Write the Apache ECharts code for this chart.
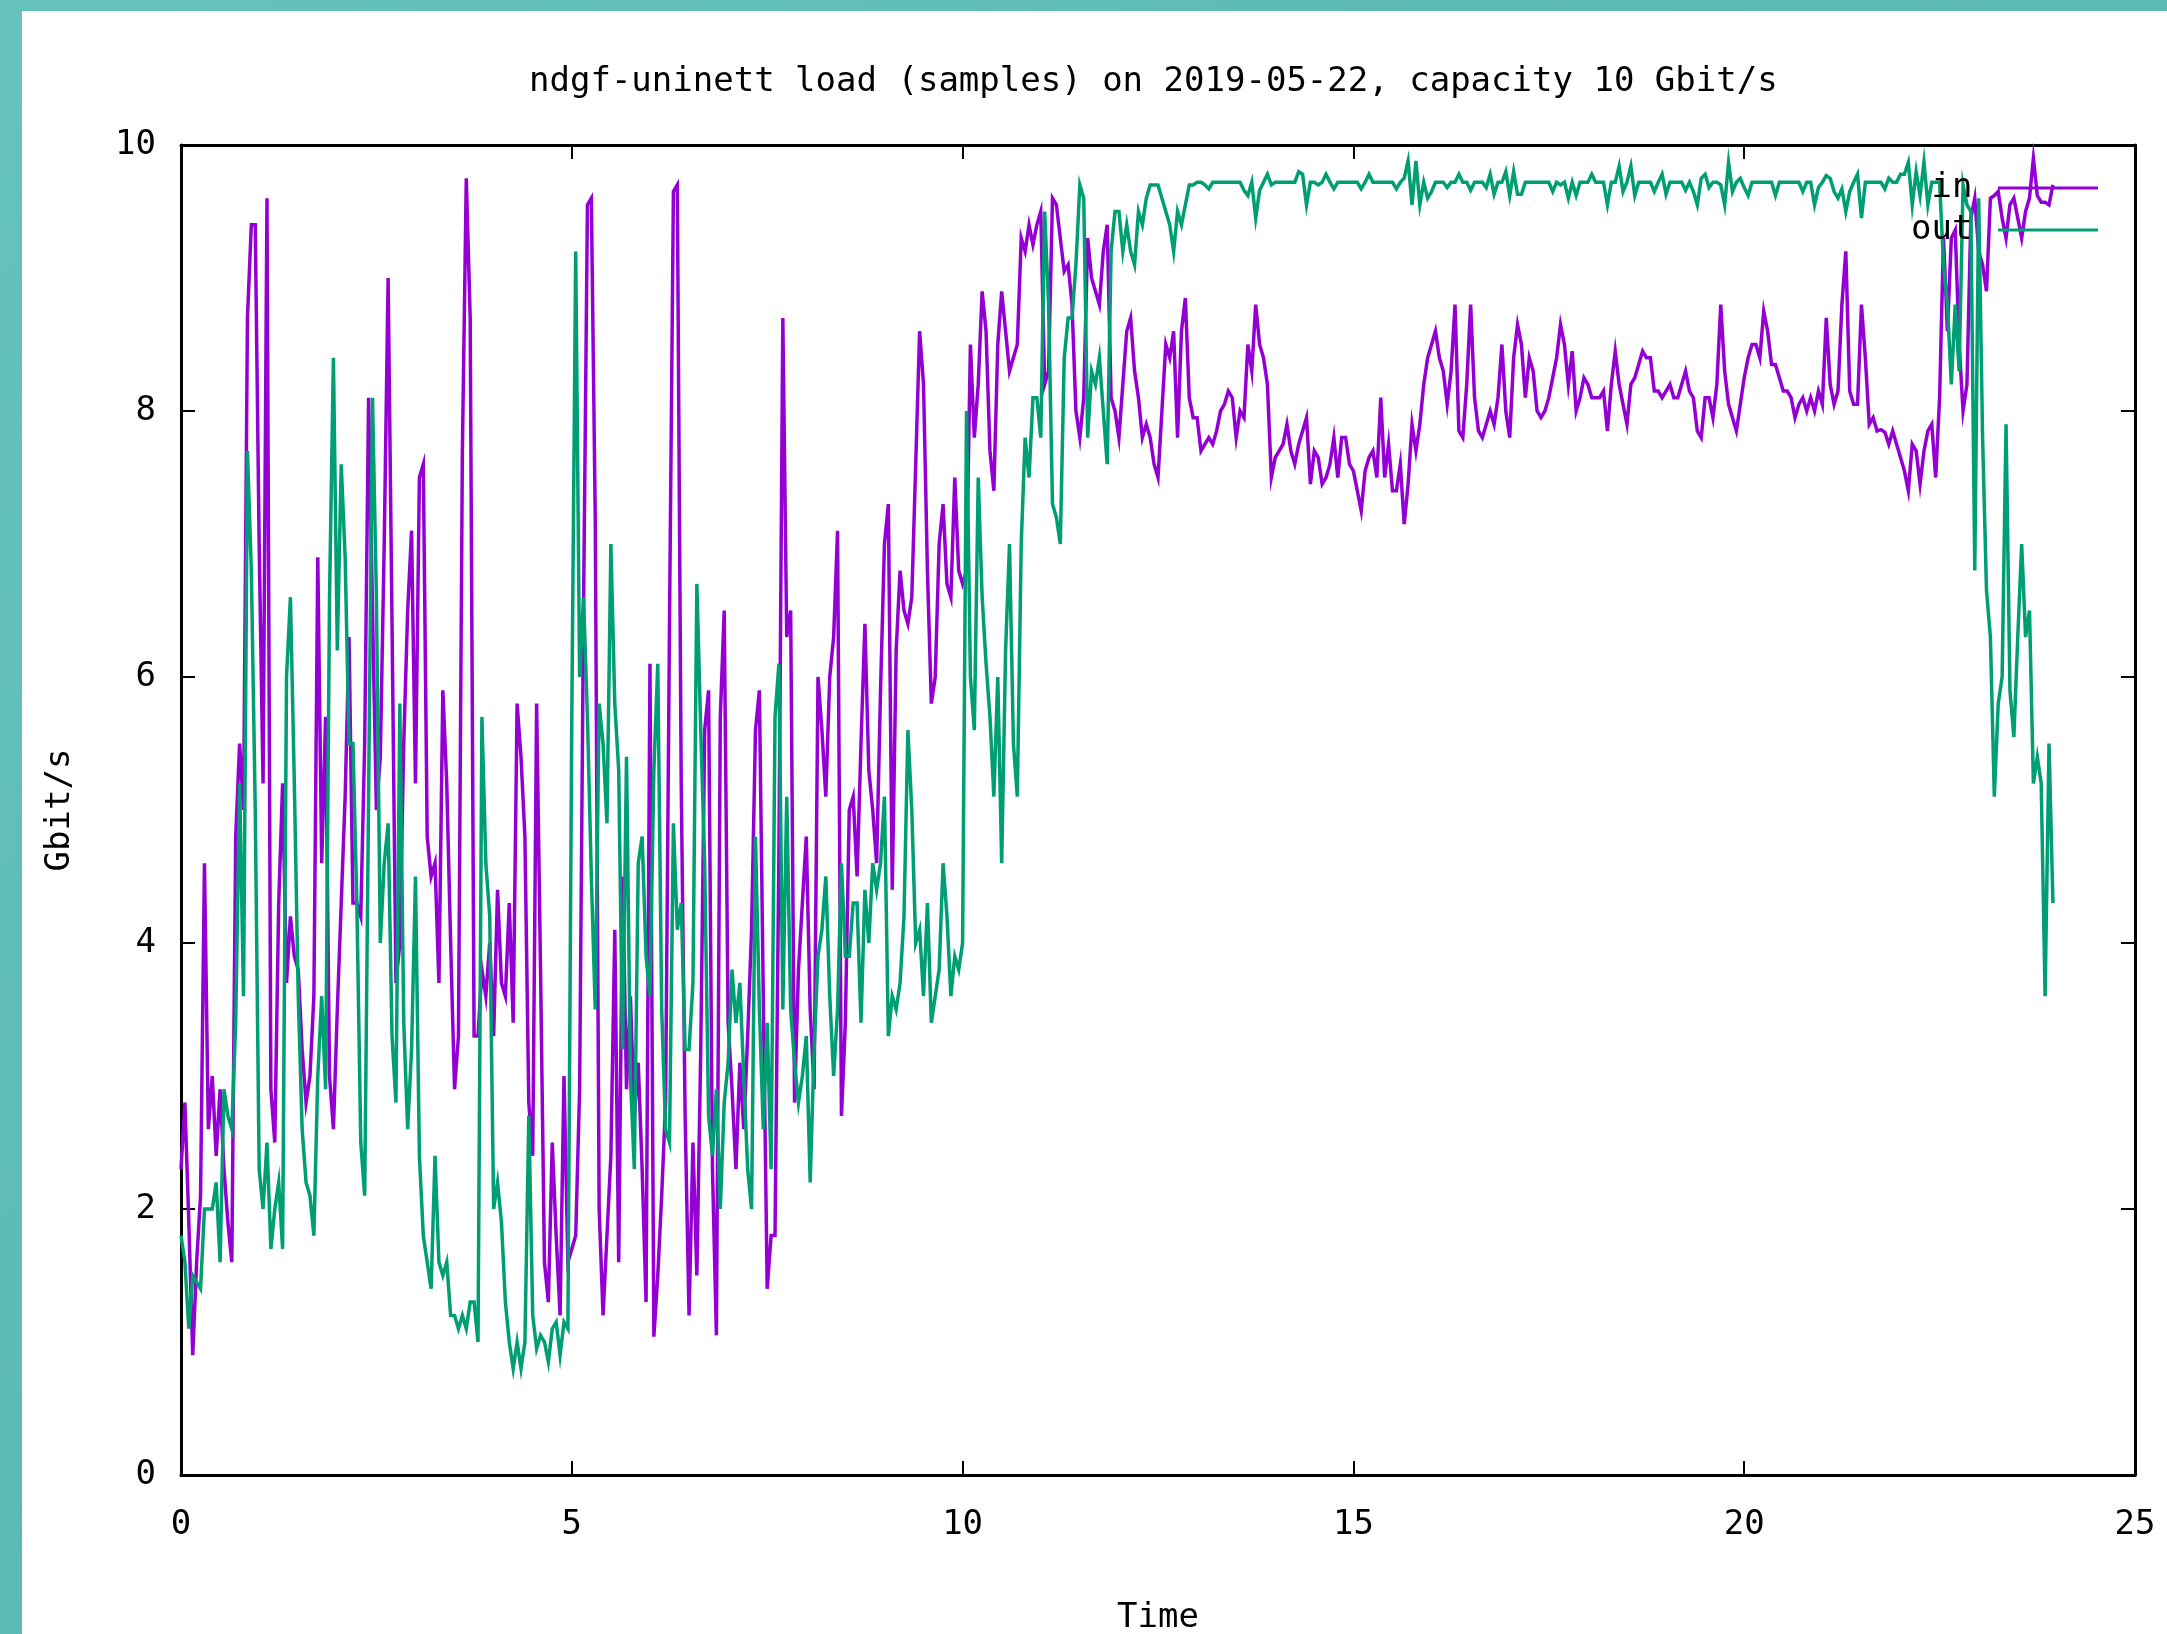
<!DOCTYPE html>
<html>
<head>
<meta charset="utf-8">
<title>ndgf-uninett load</title>
<script src="https://cdn.jsdelivr.net/npm/echarts@6/dist/echarts.min.js"></script>
<style>
  html, body { margin: 0; padding: 0; width: 2167px; height: 1634px; overflow: hidden;
    background: linear-gradient(135deg, #67c2bd 0%, #5db9b4 45%, #65c0bb 100%); }
  #panel { position: absolute; left: 22px; top: 11px; right: 0; bottom: 0; background: #fff; }
  #chart { position: absolute; left: 0; top: 0; width: 2167px; height: 1634px; }
</style>
</head>
<body>
<div id="panel"></div>
<div id="chart"></div>
<script>
// one sample every 0.05 h (3 min), starting at 0
const STEP_H = 0.05;

const xTicks = [0, 5, 10, 15, 20, 25];
const yTicks = [0, 2, 4, 6, 8, 10];

// "in" load, Gbit/s
const inGbit = [
  // 0.00 - 4.20
  2.3, 2.8, 1.9, 0.9, 1.6, 2.1, 4.6, 2.6, 3.0, 2.4,
  2.9, 2.3, 1.9, 1.6, 4.8, 5.5, 5.0, 8.7, 9.4, 9.4,
  7.0, 5.2, 9.6, 2.9, 2.5, 4.3, 5.2, 3.7, 4.2, 3.9,
  3.8, 3.2, 2.8, 3.0, 3.6, 6.9, 4.6, 5.7, 3.0, 2.6,
  3.5, 4.3, 5.1, 6.3, 4.3, 4.3, 4.2, 5.5, 8.1, 6.5,
  5.0, 5.4, 7.0, 9.0, 6.4, 3.7, 4.0, 5.5, 6.5, 7.1,
  5.2, 7.5, 7.6, 4.8, 4.5, 4.6, 3.7, 5.9, 5.2, 4.0,
  2.9, 3.3, 7.7, 9.75, 8.7, 3.3, 3.3, 3.8, 3.6, 4.0,
  3.3, 4.4, 3.7, 3.6, 4.3,
  // 4.25 - 8.35
  3.4, 5.8, 5.4, 4.8, 2.8, 2.4, 5.8, 3.8, 1.6, 1.3,
  2.5, 1.8, 1.2, 3.0, 1.6, 1.7, 1.8, 2.9, 6.5, 9.55,
  9.6, 7.2, 2.0, 1.2, 1.8, 2.4, 4.1, 1.6, 4.5, 2.9,
  3.6, 2.7, 3.1, 2.3, 1.3, 6.1, 1.04, 1.5, 2.1, 2.8,
  6.4, 9.65, 9.7, 5.2, 2.7, 1.2, 2.5, 1.5, 3.2, 5.6,
  5.9, 2.3, 1.05, 5.7, 6.5, 3.4, 2.9, 2.3, 3.1, 2.6,
  3.3, 4.1, 5.6, 5.9, 3.6, 1.4, 1.8, 1.8, 4.7, 8.7,
  6.3, 6.5, 2.8, 3.8, 4.3, 4.8, 3.5, 2.9, 6.0, 5.6,
  5.1, 6.0, 6.3,
  // 8.40 - 12.50
  7.1, 2.7, 3.4, 5.0, 5.1, 4.5, 5.5, 6.4, 5.3, 5.0,
  4.6, 5.9, 7.0, 7.3, 4.4, 6.2, 6.8, 6.5, 6.4, 6.6,
  7.6, 8.6, 8.2, 6.8, 5.8, 6.0, 7.0, 7.3, 6.7, 6.6,
  7.5, 6.8, 6.7, 6.8, 8.5, 7.8, 8.2, 8.9, 8.6, 7.7,
  7.4, 8.5, 8.9, 8.6, 8.3, 8.4, 8.5, 9.3, 9.2, 9.4,
  9.25, 9.4, 9.5, 8.2, 8.3, 9.6, 9.55, 9.3, 9.05, 9.1,
  8.8, 8.0, 7.8, 8.1, 9.3, 9.0, 8.9, 8.8, 9.2, 9.4,
  8.1, 8.0, 7.8, 8.2, 8.6, 8.7, 8.3, 8.1, 7.8, 7.9,
  7.8, 7.6, 7.5,
  // 12.55 - 16.65
  8.0, 8.5, 8.4, 8.6, 7.8, 8.6, 8.85, 8.1, 7.95, 7.95,
  7.7, 7.75, 7.8, 7.75, 7.85, 8.0, 8.05, 8.15, 8.1, 7.8,
  8.0, 7.95, 8.5, 8.3, 8.8, 8.5, 8.4, 8.2, 7.5, 7.65,
  7.7, 7.75, 7.9, 7.7, 7.6, 7.75, 7.85, 7.95, 7.45, 7.7,
  7.65, 7.45, 7.5, 7.6, 7.8, 7.5, 7.8, 7.8, 7.6, 7.55,
  7.4, 7.25, 7.55, 7.65, 7.7, 7.5, 8.1, 7.5, 7.75, 7.4,
  7.4, 7.6, 7.15, 7.45, 7.9, 7.7, 7.9, 8.2, 8.4, 8.5,
  8.6, 8.4, 8.3, 8.05, 8.3, 8.8, 7.85, 7.8, 8.2, 8.8,
  8.1, 7.85, 7.8,
  // 16.70 - 20.80
  7.9, 8.0, 7.9, 8.1, 8.5, 8.0, 7.8, 8.4, 8.65, 8.5,
  8.1, 8.4, 8.3, 8.0, 7.95, 8.0, 8.1, 8.25, 8.4, 8.65,
  8.5, 8.2, 8.45, 8.0, 8.1, 8.25, 8.2, 8.1, 8.1, 8.1,
  8.15, 7.85, 8.2, 8.45, 8.2, 8.05, 7.9, 8.2, 8.25, 8.35,
  8.45, 8.4, 8.4, 8.15, 8.15, 8.1, 8.15, 8.2, 8.1, 8.1,
  8.2, 8.3, 8.15, 8.1, 7.85, 7.8, 8.1, 8.1, 7.95, 8.2,
  8.8, 8.3, 8.05, 7.95, 7.85, 8.05, 8.25, 8.4, 8.5, 8.5,
  8.4, 8.75, 8.6, 8.35, 8.35, 8.25, 8.15, 8.15, 8.1, 7.95,
  8.05, 8.1, 8.0,
  // 20.85 - 23.95
  8.1, 8.0, 8.15, 8.05, 8.7, 8.2, 8.05, 8.15, 8.8, 9.2,
  8.15, 8.05, 8.05, 8.8, 8.4, 7.9, 7.95, 7.85, 7.86, 7.84,
  7.75, 7.85, 7.75, 7.65, 7.55, 7.4, 7.75, 7.7, 7.45, 7.7,
  7.85, 7.9, 7.5, 8.1, 9.3, 8.6, 9.3, 9.36, 8.5, 8.0,
  8.2, 9.45, 9.6, 9.2, 9.1, 8.9, 9.6, 9.62, 9.65, 9.45,
  9.3, 9.55, 9.6, 9.45, 9.3, 9.5, 9.6, 9.9, 9.62, 9.57,
  9.57, 9.55, 9.7
];

// "out" load, Gbit/s
const outGbit = [
  // 0.00 - 4.20
  1.8, 1.6, 1.1, 1.5, 1.45, 1.4, 2.0, 2.0, 2.0, 2.2,
  1.6, 2.9, 2.7, 2.6, 3.4, 5.2, 3.6, 7.7, 6.8, 5.0,
  2.3, 2.0, 2.5, 1.7, 2.0, 2.2, 1.7, 6.0, 6.6, 5.2,
  3.6, 2.6, 2.2, 2.1, 1.8, 3.0, 3.6, 2.9, 6.6, 8.4,
  6.2, 7.6, 6.9, 5.5, 5.5, 4.3, 2.5, 2.1, 5.1, 8.1,
  6.6, 4.0, 4.6, 4.9, 3.3, 2.8, 5.8, 3.4, 2.6, 3.2,
  4.5, 2.4, 1.8, 1.6, 1.4, 2.4, 1.6, 1.5, 1.6, 1.2,
  1.2, 1.1, 1.2, 1.1, 1.3, 1.3, 1.0, 5.7, 4.6, 4.2,
  2.0, 2.2, 1.9, 1.3, 1.0,
  // 4.25 - 8.35
  0.8, 1.0, 0.8, 1.0, 2.7, 1.2, 0.95, 1.05, 1.0, 0.85,
  1.1, 1.15, 0.9, 1.15, 1.1, 5.7, 9.2, 6.0, 6.6, 5.7,
  4.5, 3.5, 5.8, 5.5, 4.9, 7.0, 5.8, 5.3, 3.2, 5.4,
  3.0, 2.3, 4.6, 4.8, 3.9, 3.6, 5.3, 6.1, 3.5, 2.6,
  2.5, 4.9, 4.1, 4.3, 3.2, 3.2, 3.7, 6.7, 5.6, 4.6,
  2.7, 2.4, 2.9, 2.0, 2.8, 3.1, 3.8, 3.4, 3.7, 3.0,
  2.3, 2.0, 4.8, 3.5, 2.6, 3.4, 2.3, 5.7, 6.1, 3.5,
  5.1, 3.5, 3.1, 2.8, 3.0, 3.3, 2.2, 3.2, 3.9, 4.1,
  4.5, 3.6, 3.0,
  // 8.40 - 12.50
  3.5, 4.6, 3.9, 3.9, 4.3, 4.3, 3.4, 4.4, 4.0, 4.6,
  4.4, 4.6, 5.1, 3.3, 3.6, 3.5, 3.7, 4.2, 5.6, 5.0,
  4.0, 4.1, 3.6, 4.3, 3.4, 3.6, 3.8, 4.6, 4.2, 3.6,
  3.9, 3.8, 4.0, 8.0, 6.0, 5.6, 7.5, 6.6, 6.1, 5.7,
  5.1, 6.0, 4.6, 6.2, 7.0, 5.5, 5.1, 7.0, 7.8, 7.5,
  8.1, 8.1, 7.8, 9.5, 8.8, 7.3, 7.2, 7.0, 8.4, 8.7,
  8.7, 9.1, 9.7, 9.6, 7.8, 8.3, 8.2, 8.4, 8.0, 7.6,
  9.2, 9.5, 9.5, 9.2, 9.4, 9.2, 9.1, 9.5, 9.4, 9.6,
  9.7, 9.7, 9.7,
  // 12.55 - 16.65
  9.6, 9.5, 9.4, 9.2, 9.5, 9.4, 9.55, 9.7, 9.7, 9.72,
  9.72, 9.7, 9.67, 9.72, 9.72, 9.72, 9.72, 9.72, 9.72, 9.72,
  9.72, 9.66, 9.62, 9.72, 9.45, 9.66, 9.72, 9.78, 9.7, 9.72,
  9.72, 9.72, 9.72, 9.72, 9.72, 9.8, 9.78, 9.55, 9.72, 9.72,
  9.7, 9.72, 9.78, 9.72, 9.67, 9.72, 9.72, 9.72, 9.72, 9.72,
  9.72, 9.67, 9.72, 9.78, 9.72, 9.72, 9.72, 9.72, 9.72, 9.72,
  9.67, 9.72, 9.75, 9.88, 9.55, 9.88, 9.55, 9.72, 9.6, 9.65,
  9.72, 9.72, 9.72, 9.68, 9.72, 9.72, 9.78, 9.72, 9.72, 9.66,
  9.72, 9.72, 9.72,
  // 16.70 - 20.80
  9.68, 9.78, 9.63, 9.72, 9.72, 9.8, 9.62, 9.8, 9.63, 9.63,
  9.72, 9.72, 9.72, 9.72, 9.72, 9.72, 9.72, 9.65, 9.72, 9.7,
  9.72, 9.6, 9.72, 9.62, 9.72, 9.72, 9.72, 9.78, 9.72, 9.72,
  9.72, 9.55, 9.72, 9.72, 9.84, 9.65, 9.72, 9.84, 9.62, 9.72,
  9.72, 9.72, 9.72, 9.65, 9.72, 9.78, 9.63, 9.72, 9.72, 9.72,
  9.72, 9.66, 9.72, 9.65, 9.55, 9.75, 9.78, 9.68, 9.72, 9.72,
  9.7, 9.55, 9.87, 9.65, 9.72, 9.75, 9.68, 9.62, 9.72, 9.72,
  9.72, 9.72, 9.72, 9.72, 9.62, 9.72, 9.72, 9.72, 9.72, 9.72,
  9.72, 9.65, 9.72,
  // 20.85 - 23.95
  9.72, 9.55, 9.68, 9.72, 9.77, 9.75, 9.65, 9.6, 9.67, 9.5,
  9.65, 9.72, 9.78, 9.45, 9.72, 9.72, 9.72, 9.72, 9.72, 9.67,
  9.75, 9.72, 9.72, 9.78, 9.78, 9.87, 9.55, 9.8, 9.62, 9.87,
  9.55, 9.72, 9.72, 9.72, 9.1, 8.8, 8.2, 8.8, 8.3, 9.7,
  9.55, 9.5, 6.8, 9.6, 7.8, 6.65, 6.3, 5.1, 5.8, 6.0,
  7.9, 5.9, 5.55, 6.3, 7.0, 6.3, 6.5, 5.2, 5.4, 5.2,
  3.6, 5.5, 4.3
];

const FONT = '"DejaVu Sans Mono", "Liberation Mono", monospace';
const txt = { fontFamily: FONT, fontSize: 34, color: '#000', fontWeight: 'normal' };

function withTime(values) {
  return values.map((v, i) => [Math.round(i * STEP_H * 100) / 100, v]);
}

function axisBase(extra) {
  return Object.assign({
    type: 'value',
    axisLine: { show: true, onZero: false, lineStyle: { color: '#000', width: 3 } },
    axisTick: { show: true, inside: true, length: 14, lineStyle: { color: '#000', width: 2 } },
    splitLine: { show: false }
  }, extra);
}

const chart = echarts.init(document.getElementById('chart'));

chart.setOption({
  animation: false,
  title: {
    text: 'ndgf-uninett load (samples) on 2019-05-22, capacity 10 Gbit/s',
    left: 529,
    top: 65,
    padding: 0,
    textStyle: txt
  },
  legend: [
    {
      data: [{ name: 'in', icon: 'rect' }],
      right: 69, top: 171, padding: 0,
      align: 'right', itemWidth: 100, itemHeight: 3,
      selectedMode: false,
      formatter: n => n + ' ',
      textStyle: txt
    },
    {
      data: [{ name: 'out', icon: 'rect' }],
      right: 69, top: 213, padding: 0,
      align: 'right', itemWidth: 100, itemHeight: 3,
      selectedMode: false,
      formatter: n => n + ' ',
      textStyle: txt
    }
  ],
  grid: { left: 181, right: 32, top: 145, bottom: 159, containLabel: false, outerBoundsMode: 'none' },
  xAxis: [
    axisBase({
      position: 'bottom',
      min: xTicks[0], max: xTicks[xTicks.length - 1], interval: 5,
      name: 'Time', nameLocation: 'middle', nameGap: 126,
      nameTextStyle: txt,
      axisLabel: Object.assign({ margin: 33 }, txt)
    }),
    axisBase({
      position: 'top',
      min: xTicks[0], max: xTicks[xTicks.length - 1], interval: 5,
      axisLabel: { show: false }
    })
  ],
  yAxis: [
    axisBase({
      position: 'left',
      min: yTicks[0], max: yTicks[yTicks.length - 1], interval: 2,
      name: 'Gbit/s', nameLocation: 'middle', nameGap: 104, nameRotate: 90,
      nameTextStyle: txt,
      axisLabel: Object.assign({ margin: 25 }, txt)
    }),
    axisBase({
      position: 'right',
      min: yTicks[0], max: yTicks[yTicks.length - 1], interval: 2,
      axisLabel: { show: false }
    })
  ],
  series: [
    {
      name: 'in', type: 'line', xAxisIndex: 0, yAxisIndex: 0,
      data: withTime(inGbit),
      showSymbol: false, symbol: 'none',
      color: '#9400d3',
      lineStyle: { color: '#9400d3', width: 3.5, cap: 'butt', join: 'miter' }
    },
    {
      name: 'out', type: 'line', xAxisIndex: 0, yAxisIndex: 0,
      data: withTime(outGbit),
      showSymbol: false, symbol: 'none',
      color: '#009e73',
      lineStyle: { color: '#009e73', width: 3.5, cap: 'butt', join: 'miter' }
    }
  ]
});
</script>
</body>
</html>
